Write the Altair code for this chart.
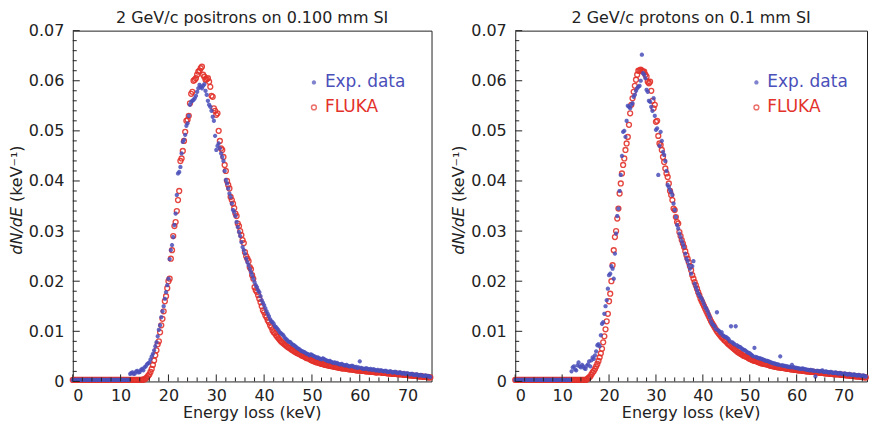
import altair as alt
import pandas as pd

# ---------------- data ----------------
energy_kev = [
    0.0, 0.25, 0.5, 0.75, 1.0, 1.25, 1.5, 1.75, 2.0, 2.25, 2.5, 2.75, 3.0, 3.25, 3.5, 3.75, 4.0, 4.25, 4.5, 4.75,
    5.0, 5.25, 5.5, 5.75, 6.0, 6.25, 6.5, 6.75, 7.0, 7.25, 7.5, 7.75, 8.0, 8.25, 8.5, 8.75, 9.0, 9.25, 9.5, 9.75,
    10.0, 10.25, 10.5, 10.75, 11.0, 11.25, 11.5, 11.75, 12.0, 12.25, 12.5, 12.75, 13.0, 13.25, 13.5, 13.75, 14.0, 14.25, 14.5, 14.75,
    15.0, 15.25, 15.5, 15.75, 16.0, 16.25, 16.5, 16.75, 17.0, 17.25, 17.5, 17.75, 18.0, 18.25, 18.5, 18.75, 19.0, 19.25, 19.5, 19.75,
    20.0, 20.25, 20.5, 20.75, 21.0, 21.25, 21.5, 21.75, 22.0, 22.25, 22.5, 22.75, 23.0, 23.25, 23.5, 23.75, 24.0, 24.25, 24.5, 24.75,
    25.0, 25.25, 25.5, 25.75, 26.0, 26.25, 26.5, 26.75, 27.0, 27.25, 27.5, 27.75, 28.0, 28.25, 28.5, 28.75, 29.0, 29.25, 29.5, 29.75,
    30.0, 30.25, 30.5, 30.75, 31.0, 31.25, 31.5, 31.75, 32.0, 32.25, 32.5, 32.75, 33.0, 33.25, 33.5, 33.75, 34.0, 34.25, 34.5, 34.75,
    35.0, 35.25, 35.5, 35.75, 36.0, 36.25, 36.5, 36.75, 37.0, 37.25, 37.5, 37.75, 38.0, 38.25, 38.5, 38.75, 39.0, 39.25, 39.5, 39.75,
    40.0, 40.25, 40.5, 40.75, 41.0, 41.25, 41.5, 41.75, 42.0, 42.25, 42.5, 42.75, 43.0, 43.25, 43.5, 43.75, 44.0, 44.25, 44.5, 44.75,
    45.0, 45.25, 45.5, 45.75, 46.0, 46.25, 46.5, 46.75, 47.0, 47.25, 47.5, 47.75, 48.0, 48.25, 48.5, 48.75, 49.0, 49.25, 49.5, 49.75,
    50.0, 50.25, 50.5, 50.75, 51.0, 51.25, 51.5, 51.75, 52.0, 52.25, 52.5, 52.75, 53.0, 53.25, 53.5, 53.75, 54.0, 54.25, 54.5, 54.75,
    55.0, 55.25, 55.5, 55.75, 56.0, 56.25, 56.5, 56.75, 57.0, 57.25, 57.5, 57.75, 58.0, 58.25, 58.5, 58.75, 59.0, 59.25, 59.5, 59.75,
    60.0, 60.25, 60.5, 60.75, 61.0, 61.25, 61.5, 61.75, 62.0, 62.25, 62.5, 62.75, 63.0, 63.25, 63.5, 63.75, 64.0, 64.25, 64.5, 64.75,
    65.0, 65.25, 65.5, 65.75, 66.0, 66.25, 66.5, 66.75, 67.0, 67.25, 67.5, 67.75, 68.0, 68.25, 68.5, 68.75, 69.0, 69.25, 69.5, 69.75,
    70.0, 70.25, 70.5, 70.75, 71.0, 71.25, 71.5, 71.75, 72.0, 72.25, 72.5, 72.75, 73.0, 73.25, 73.5, 73.75, 74.0, 74.25, 74.5, 74.75,
]

positron_exp = [
    0.0003, 0.0003, 0.0003, 0.0003, 0.0003, 0.0003, 0.0003, 0.0003, 0.0003, 0.0003, 0.0003, 0.0003, 0.0003, 0.0003, 0.0003, 0.0003, 0.0003, 0.0003, 0.0003, 0.0003,
    0.0003, 0.0003, 0.0003, 0.0003, 0.0003, 0.0003, 0.0003, 0.0003, 0.0003, 0.0003, 0.0003, 0.0003, 0.0003, 0.0003, 0.0003, 0.0003, 0.0003, 0.0003, 0.0003, 0.0003,
    0.0003, 0.0003, 0.0003, 0.0003, 0.0003, 0.0003, 0.0003, 0.0003, 0.0015, 0.0017, 0.0018, 0.0015, 0.0016, 0.0020, 0.0021, 0.0018, 0.0019, 0.0023, 0.0025, 0.0022,
    0.0028, 0.0030, 0.0034, 0.0036, 0.0038, 0.0044, 0.0050, 0.0055, 0.0062, 0.0070, 0.0078, 0.0090, 0.0103, 0.0112, 0.0128, 0.0140, 0.0150, 0.0165, 0.0178, 0.0192,
    0.0205, 0.0244, 0.0262, 0.0272, 0.0288, 0.0312, 0.0335, 0.0372, 0.0415, 0.0418, 0.0428, 0.0455, 0.0478, 0.0482, 0.0492, 0.0510, 0.0515, 0.0530, 0.0552, 0.0558,
    0.0560, 0.0562, 0.0565, 0.0570, 0.0578, 0.0585, 0.0592, 0.0588, 0.0585, 0.0590, 0.0593, 0.0580, 0.0572, 0.0560, 0.0552, 0.0548, 0.0540, 0.0528, 0.0520, 0.0490,
    0.0462, 0.0470, 0.0475, 0.0465, 0.0455, 0.0448, 0.0440, 0.0420, 0.0402, 0.0395, 0.0385, 0.0375, 0.0368, 0.0355, 0.0342, 0.0338, 0.0330, 0.0318, 0.0308, 0.0298,
    0.0290, 0.0278, 0.0268, 0.0262, 0.0255, 0.0245, 0.0238, 0.0232, 0.0225, 0.0218, 0.0212, 0.0205, 0.0198, 0.0192, 0.0188, 0.0182, 0.0178, 0.0170, 0.0162, 0.0157,
    0.0152, 0.0146, 0.0140, 0.0135, 0.0130, 0.0124, 0.0120, 0.0118, 0.0115, 0.0110, 0.0108, 0.0105, 0.0102, 0.0098, 0.0096, 0.0094, 0.0092, 0.0088, 0.0085, 0.0083,
    0.0080, 0.0079, 0.0078, 0.0075, 0.0073, 0.0072, 0.0070, 0.0068, 0.0066, 0.0065, 0.0063, 0.0061, 0.0060, 0.0059, 0.0058, 0.0056, 0.0055, 0.0054, 0.0052, 0.0054,
    0.0053, 0.0051, 0.0050, 0.0049, 0.0047, 0.0048, 0.0046, 0.0045, 0.0044, 0.0046, 0.0045, 0.0043, 0.0042, 0.0041, 0.0040, 0.0041, 0.0039, 0.0038, 0.0037, 0.0038,
    0.0036, 0.0037, 0.0035, 0.0034, 0.0034, 0.0035, 0.0033, 0.0032, 0.0032, 0.0033, 0.0031, 0.0030, 0.0030, 0.0031, 0.0031, 0.0029, 0.0028, 0.0029, 0.0027, 0.0028,
    0.0040, 0.0027, 0.0026, 0.0025, 0.0025, 0.0026, 0.0026, 0.0024, 0.0024, 0.0025, 0.0023, 0.0024, 0.0024, 0.0022, 0.0022, 0.0023, 0.0021, 0.0022, 0.0022, 0.0021,
    0.0020, 0.0021, 0.0021, 0.0019, 0.0019, 0.0020, 0.0020, 0.0018, 0.0018, 0.0019, 0.0019, 0.0017, 0.0017, 0.0018, 0.0018, 0.0016, 0.0016, 0.0017, 0.0015, 0.0016,
    0.0016, 0.0015, 0.0014, 0.0015, 0.0015, 0.0013, 0.0013, 0.0014, 0.0014, 0.0012, 0.0012, 0.0013, 0.0012, 0.0011, 0.0011, 0.0012, 0.0010, 0.0011, 0.0010, 0.0009,
]

positron_fluka = [
    0.0003, 0.0003, 0.0003, 0.0003, 0.0003, 0.0003, 0.0003, 0.0003, 0.0003, 0.0003, 0.0003, 0.0003, 0.0003, 0.0003, 0.0003, 0.0003, 0.0003, 0.0003, 0.0003, 0.0003,
    0.0003, 0.0003, 0.0003, 0.0003, 0.0003, 0.0003, 0.0003, 0.0003, 0.0003, 0.0003, 0.0003, 0.0003, 0.0003, 0.0003, 0.0003, 0.0003, 0.0003, 0.0003, 0.0003, 0.0003,
    0.0003, 0.0003, 0.0003, 0.0003, 0.0003, 0.0003, 0.0003, 0.0003, 0.0003, 0.0003, 0.0003, 0.0003, 0.0003, 0.0003, 0.0003, 0.0003, 0.0003, 0.0003, 0.0003, 0.0004,
    0.0004, 0.0006, 0.0008, 0.0011, 0.0014, 0.0019, 0.0025, 0.0033, 0.0042, 0.0052, 0.0062, 0.0074, 0.0080, 0.0098, 0.0112, 0.0125, 0.0140, 0.0160, 0.0170, 0.0186,
    0.0200, 0.0205, 0.0245, 0.0262, 0.0290, 0.0310, 0.0318, 0.0340, 0.0362, 0.0380, 0.0440, 0.0445, 0.0460, 0.0480, 0.0498, 0.0520, 0.0522, 0.0530, 0.0555, 0.0574,
    0.0578, 0.0600, 0.0602, 0.0605, 0.0612, 0.0618, 0.0620, 0.0625, 0.0628, 0.0612, 0.0608, 0.0602, 0.0603, 0.0605, 0.0598, 0.0588, 0.0570, 0.0568, 0.0545, 0.0540,
    0.0532, 0.0535, 0.0500, 0.0480, 0.0465, 0.0462, 0.0448, 0.0432, 0.0420, 0.0400, 0.0392, 0.0385, 0.0368, 0.0362, 0.0355, 0.0346, 0.0335, 0.0330, 0.0315, 0.0310,
    0.0300, 0.0292, 0.0282, 0.0276, 0.0258, 0.0250, 0.0245, 0.0240, 0.0228, 0.0224, 0.0212, 0.0205, 0.0188, 0.0182, 0.0178, 0.0172, 0.0165, 0.0158, 0.0150, 0.0142,
    0.0138, 0.0132, 0.0128, 0.0122, 0.0118, 0.0112, 0.0108, 0.0102, 0.0098, 0.0096, 0.0092, 0.0089, 0.0086, 0.0083, 0.0080, 0.0078, 0.0076, 0.0074, 0.0072, 0.0070,
    0.0068, 0.0067, 0.0065, 0.0063, 0.0062, 0.0060, 0.0059, 0.0057, 0.0056, 0.0055, 0.0054, 0.0052, 0.0051, 0.0050, 0.0049, 0.0047, 0.0046, 0.0046, 0.0045, 0.0043,
    0.0042, 0.0041, 0.0040, 0.0039, 0.0038, 0.0038, 0.0037, 0.0036, 0.0035, 0.0035, 0.0034, 0.0033, 0.0033, 0.0032, 0.0032, 0.0031, 0.0031, 0.0030, 0.0030, 0.0029,
    0.0029, 0.0028, 0.0028, 0.0027, 0.0027, 0.0026, 0.0026, 0.0026, 0.0026, 0.0025, 0.0025, 0.0024, 0.0024, 0.0024, 0.0024, 0.0023, 0.0023, 0.0022, 0.0022, 0.0022,
    0.0022, 0.0021, 0.0021, 0.0021, 0.0022, 0.0020, 0.0020, 0.0020, 0.0020, 0.0019, 0.0019, 0.0019, 0.0019, 0.0018, 0.0018, 0.0018, 0.0019, 0.0018, 0.0018, 0.0017,
    0.0017, 0.0017, 0.0017, 0.0016, 0.0016, 0.0016, 0.0016, 0.0015, 0.0015, 0.0015, 0.0016, 0.0015, 0.0014, 0.0014, 0.0015, 0.0014, 0.0014, 0.0013, 0.0013, 0.0013,
    0.0013, 0.0012, 0.0012, 0.0012, 0.0012, 0.0011, 0.0011, 0.0011, 0.0011, 0.0010, 0.0010, 0.0010, 0.0010, 0.0009, 0.0009, 0.0009, 0.0009, 0.0008, 0.0008, 0.0008,
]

proton_exp = [
    0.0003, 0.0003, 0.0003, 0.0003, 0.0003, 0.0003, 0.0003, 0.0003, 0.0003, 0.0003, 0.0003, 0.0003, 0.0003, 0.0003, 0.0003, 0.0003, 0.0003, 0.0003, 0.0003, 0.0003,
    0.0003, 0.0003, 0.0003, 0.0003, 0.0003, 0.0003, 0.0003, 0.0003, 0.0003, 0.0003, 0.0003, 0.0003, 0.0003, 0.0003, 0.0003, 0.0003, 0.0003, 0.0003, 0.0003, 0.0003,
    0.0003, 0.0003, 0.0003, 0.0003, 0.0003, 0.0003, 0.0003, 0.0003, 0.0020, 0.0028, 0.0030, 0.0024, 0.0022, 0.0032, 0.0038, 0.0030, 0.0028, 0.0033, 0.0030, 0.0026,
    0.0025, 0.0031, 0.0034, 0.0040, 0.0030, 0.0042, 0.0048, 0.0045, 0.0052, 0.0060, 0.0072, 0.0074, 0.0070, 0.0092, 0.0115, 0.0118, 0.0135, 0.0150, 0.0162, 0.0185,
    0.0212, 0.0215, 0.0230, 0.0225, 0.0205, 0.0255, 0.0295, 0.0330, 0.0345, 0.0380, 0.0412, 0.0450, 0.0498, 0.0500, 0.0488, 0.0520, 0.0550, 0.0548, 0.0545, 0.0552,
    0.0555, 0.0568, 0.0572, 0.0580, 0.0585, 0.0588, 0.0590, 0.0600, 0.0652, 0.0615, 0.0612, 0.0605, 0.0582, 0.0578, 0.0560, 0.0558, 0.0548, 0.0540, 0.0565, 0.0530,
    0.0502, 0.0505, 0.0412, 0.0470, 0.0498, 0.0480, 0.0458, 0.0452, 0.0440, 0.0420, 0.0392, 0.0388, 0.0382, 0.0378, 0.0372, 0.0355, 0.0342, 0.0328, 0.0312, 0.0305,
    0.0295, 0.0288, 0.0280, 0.0274, 0.0268, 0.0255, 0.0245, 0.0240, 0.0232, 0.0225, 0.0215, 0.0230, 0.0240, 0.0195, 0.0188, 0.0182, 0.0176, 0.0172, 0.0168, 0.0165,
    0.0160, 0.0154, 0.0148, 0.0145, 0.0140, 0.0134, 0.0128, 0.0120, 0.0115, 0.0112, 0.0110, 0.0105, 0.0138, 0.0102, 0.0100, 0.0096, 0.0098, 0.0092, 0.0090, 0.0089,
    0.0088, 0.0086, 0.0084, 0.0080, 0.0110, 0.0078, 0.0076, 0.0074, 0.0110, 0.0072, 0.0070, 0.0069, 0.0068, 0.0066, 0.0064, 0.0063, 0.0062, 0.0060, 0.0058, 0.0057,
    0.0056, 0.0054, 0.0052, 0.0050, 0.0067, 0.0049, 0.0048, 0.0047, 0.0046, 0.0046, 0.0045, 0.0044, 0.0043, 0.0042, 0.0041, 0.0041, 0.0040, 0.0039, 0.0038, 0.0037,
    0.0036, 0.0036, 0.0035, 0.0034, 0.0034, 0.0033, 0.0050, 0.0032, 0.0032, 0.0031, 0.0031, 0.0030, 0.0030, 0.0029, 0.0029, 0.0028, 0.0033, 0.0028, 0.0028, 0.0027,
    0.0027, 0.0026, 0.0026, 0.0025, 0.0025, 0.0026, 0.0025, 0.0024, 0.0024, 0.0023, 0.0023, 0.0022, 0.0023, 0.0022, 0.0022, 0.0021, 0.0010, 0.0021, 0.0021, 0.0020,
    0.0020, 0.0021, 0.0022, 0.0019, 0.0019, 0.0020, 0.0019, 0.0018, 0.0018, 0.0019, 0.0018, 0.0017, 0.0017, 0.0018, 0.0017, 0.0016, 0.0016, 0.0017, 0.0016, 0.0015,
    0.0015, 0.0016, 0.0015, 0.0014, 0.0014, 0.0015, 0.0014, 0.0013, 0.0013, 0.0014, 0.0013, 0.0012, 0.0012, 0.0013, 0.0012, 0.0011, 0.0011, 0.0012, 0.0010, 0.0010,
]

proton_fluka = [
    0.0003, 0.0003, 0.0003, 0.0003, 0.0003, 0.0003, 0.0003, 0.0003, 0.0003, 0.0003, 0.0003, 0.0003, 0.0003, 0.0003, 0.0003, 0.0003, 0.0003, 0.0003, 0.0003, 0.0003,
    0.0003, 0.0003, 0.0003, 0.0003, 0.0003, 0.0003, 0.0003, 0.0003, 0.0003, 0.0003, 0.0003, 0.0003, 0.0003, 0.0003, 0.0003, 0.0003, 0.0003, 0.0003, 0.0003, 0.0003,
    0.0003, 0.0003, 0.0003, 0.0003, 0.0003, 0.0003, 0.0003, 0.0003, 0.0003, 0.0003, 0.0003, 0.0003, 0.0003, 0.0003, 0.0003, 0.0003, 0.0003, 0.0003, 0.0003, 0.0003,
    0.0003, 0.0004, 0.0006, 0.0008, 0.0010, 0.0014, 0.0018, 0.0021, 0.0025, 0.0030, 0.0035, 0.0041, 0.0048, 0.0056, 0.0065, 0.0078, 0.0090, 0.0104, 0.0120, 0.0135,
    0.0160, 0.0175, 0.0200, 0.0232, 0.0262, 0.0288, 0.0300, 0.0325, 0.0345, 0.0375, 0.0395, 0.0415, 0.0432, 0.0445, 0.0462, 0.0475, 0.0488, 0.0512, 0.0535, 0.0552,
    0.0565, 0.0578, 0.0590, 0.0602, 0.0612, 0.0620, 0.0620, 0.0622, 0.0620, 0.0618, 0.0618, 0.0612, 0.0608, 0.0598, 0.0595, 0.0598, 0.0580, 0.0560, 0.0545, 0.0552,
    0.0518, 0.0520, 0.0490, 0.0475, 0.0472, 0.0462, 0.0448, 0.0438, 0.0425, 0.0415, 0.0408, 0.0395, 0.0380, 0.0372, 0.0362, 0.0345, 0.0342, 0.0328, 0.0318, 0.0315,
    0.0298, 0.0290, 0.0282, 0.0275, 0.0268, 0.0260, 0.0252, 0.0245, 0.0238, 0.0230, 0.0222, 0.0212, 0.0205, 0.0198, 0.0192, 0.0185, 0.0178, 0.0172, 0.0165, 0.0160,
    0.0155, 0.0150, 0.0145, 0.0140, 0.0135, 0.0130, 0.0125, 0.0120, 0.0116, 0.0112, 0.0108, 0.0104, 0.0100, 0.0097, 0.0094, 0.0091, 0.0088, 0.0086, 0.0083, 0.0081,
    0.0079, 0.0076, 0.0074, 0.0072, 0.0070, 0.0068, 0.0066, 0.0064, 0.0062, 0.0060, 0.0058, 0.0057, 0.0055, 0.0054, 0.0052, 0.0051, 0.0050, 0.0049, 0.0048, 0.0046,
    0.0045, 0.0044, 0.0043, 0.0042, 0.0041, 0.0041, 0.0040, 0.0039, 0.0038, 0.0037, 0.0036, 0.0036, 0.0035, 0.0035, 0.0034, 0.0034, 0.0033, 0.0032, 0.0031, 0.0031,
    0.0030, 0.0030, 0.0029, 0.0029, 0.0028, 0.0028, 0.0028, 0.0027, 0.0027, 0.0027, 0.0026, 0.0026, 0.0025, 0.0025, 0.0025, 0.0024, 0.0024, 0.0024, 0.0023, 0.0023,
    0.0023, 0.0022, 0.0022, 0.0022, 0.0022, 0.0021, 0.0021, 0.0021, 0.0020, 0.0020, 0.0020, 0.0020, 0.0019, 0.0019, 0.0019, 0.0019, 0.0018, 0.0018, 0.0018, 0.0018,
    0.0017, 0.0017, 0.0017, 0.0017, 0.0016, 0.0016, 0.0016, 0.0016, 0.0015, 0.0015, 0.0015, 0.0015, 0.0014, 0.0014, 0.0015, 0.0014, 0.0014, 0.0014, 0.0013, 0.0013,
    0.0013, 0.0013, 0.0012, 0.0012, 0.0012, 0.0012, 0.0011, 0.0011, 0.0011, 0.0011, 0.0010, 0.0010, 0.0010, 0.0010, 0.0009, 0.0009, 0.0009, 0.0009, 0.0008, 0.0008,
]

x_major_ticks = [0, 10, 20, 30, 40, 50, 60, 70]
x_minor_ticks = [2, 4, 6, 8, 12, 14, 16, 18, 22, 24, 26, 28, 32, 34, 36, 38,
                 42, 44, 46, 48, 52, 54, 56, 58, 62, 64, 66, 68, 72, 74]
y_major_ticks = [0, 0.01, 0.02, 0.03, 0.04, 0.05, 0.06, 0.07]
y_minor_ticks = [0.002, 0.004, 0.006, 0.008, 0.012, 0.014, 0.016, 0.018,
                 0.022, 0.024, 0.026, 0.028, 0.032, 0.034, 0.036, 0.038,
                 0.042, 0.044, 0.046, 0.048, 0.052, 0.054, 0.056, 0.058,
                 0.062, 0.064, 0.066, 0.068]

titles = ["2 GeV/c positrons on 0.100 mm SI", "2 GeV/c protons on 0.1 mm SI"]
legend_labels = ["Exp. data", "FLUKA"]
x_title = "Energy loss (keV)"
y_title_a = "dN/dE"
y_title_b = "(keV\u207b\u00b9)"

# ---------------- style ----------------
FONT = "DejaVu Sans"
BLUE = "#4a4fba"
RED = "#e3322b"
INK = "#222222"
ASTERISK = "M-1,0L1,0M0,-1L0,1M-0.7,-0.7L0.7,0.7M-0.7,0.7L0.7,-0.7"


def panel(exp_vals, fluka_vals, title, w, h):
    df = pd.DataFrame({"E": energy_kev, "exp": exp_vals, "fluka": fluka_vals})
    xs = alt.Scale(domain=[0, 75], nice=False, zero=False)
    ys = alt.Scale(domain=[0, 0.07], nice=False)
    xaxis = alt.Axis(values=x_major_ticks, title=None, ticks=False, tickSize=0,
                     domain=False, grid=False, labelPadding=6, labelFont=FONT,
                     labelFontSize=16, labelColor=INK)
    yaxis = alt.Axis(values=y_major_ticks, title=None, ticks=False, tickSize=0,
                     domain=False, grid=False, labelPadding=9, labelFont=FONT,
                     labelFontSize=16, labelColor=INK,
                     labelExpr="datum.value == 0 ? '0' : format(datum.value, '.2f')")

    base = alt.Chart(df)
    red = base.mark_point(shape="circle", filled=False, stroke=RED,
                          strokeWidth=1.4, size=24, opacity=0.9).encode(
        x=alt.X("E:Q", scale=xs, axis=xaxis),
        y=alt.Y("fluka:Q", scale=ys, axis=yaxis),
    )
    blue = base.mark_point(shape=ASTERISK, filled=False, stroke=BLUE,
                           strokeWidth=1.4, size=18, opacity=0.85).encode(
        x=alt.X("E:Q", scale=xs, axis=xaxis),
        y=alt.Y("exp:Q", scale=ys, axis=yaxis),
    )

    def xticks(vals, ln):
        return alt.Chart(pd.DataFrame({"v": vals})).mark_rule(
            color=INK, strokeWidth=1).encode(
            x=alt.X("v:Q", scale=xs, axis=xaxis),
            y=alt.value(h), y2=alt.value(h - ln))

    def yticks(vals, ln):
        return alt.Chart(pd.DataFrame({"v": vals})).mark_rule(
            color=INK, strokeWidth=1).encode(
            y=alt.Y("v:Q", scale=ys, axis=yaxis),
            x=alt.value(0), x2=alt.value(ln))

    one = pd.DataFrame({"k": [0]})
    ttl = alt.Chart(one).mark_text(
        text=title, align="center", baseline="alphabetic", font=FONT,
        fontSize=16, color=INK).encode(x=alt.value(w / 2), y=alt.value(-8))
    xtl = alt.Chart(one).mark_text(
        text=x_title, align="center", baseline="alphabetic", font=FONT,
        fontSize=16, color=INK).encode(x=alt.value(w / 2), y=alt.value(h + 37))
    yt_a = alt.Chart(one).mark_text(
        text=y_title_a, angle=270, align="right", baseline="middle", font=FONT,
        fontSize=16, fontStyle="italic", color=INK).encode(
        x=alt.value(-56), y=alt.value(h / 2 + 1))
    yt_b = alt.Chart(one).mark_text(
        text=y_title_b, angle=270, align="left", baseline="middle", font=FONT,
        fontSize=16, color=INK).encode(
        x=alt.value(-56), y=alt.value(h / 2 - 4))

    lg_star = alt.Chart(one).mark_point(shape=ASTERISK, filled=False, stroke=BLUE,
                                        strokeWidth=1.4, size=18).encode(
        x=alt.value(242), y=alt.value(52))
    lg_circ = alt.Chart(one).mark_point(shape="circle", filled=False, stroke=RED,
                                        strokeWidth=1.4, size=24).encode(
        x=alt.value(242), y=alt.value(77))
    lg_t1 = alt.Chart(one).mark_text(text=legend_labels[0], align="left",
                                     baseline="middle", font=FONT, fontSize=17,
                                     color=BLUE).encode(x=alt.value(253), y=alt.value(52))
    lg_t2 = alt.Chart(one).mark_text(text=legend_labels[1], align="left",
                                     baseline="middle", font=FONT, fontSize=17,
                                     color=RED).encode(x=alt.value(253), y=alt.value(77))

    return alt.layer(
        red, blue,
        xticks(x_major_ticks, 7), xticks(x_minor_ticks, 4),
        yticks(y_major_ticks, 7), yticks(y_minor_ticks, 4),
        ttl, xtl, yt_a, yt_b, lg_star, lg_circ, lg_t1, lg_t2,
    ).properties(width=w, height=h)


left = panel(positron_exp, positron_fluka, titles[0], 360, 352)
right = panel(proton_exp, proton_fluka, titles[1], 353, 352)

chart = alt.hconcat(left, right, spacing=14, padding=0).configure_view(
    stroke=INK, strokeWidth=1
)

chart.save("out.html", embed_options={"renderer": "svg", "actions": False})
